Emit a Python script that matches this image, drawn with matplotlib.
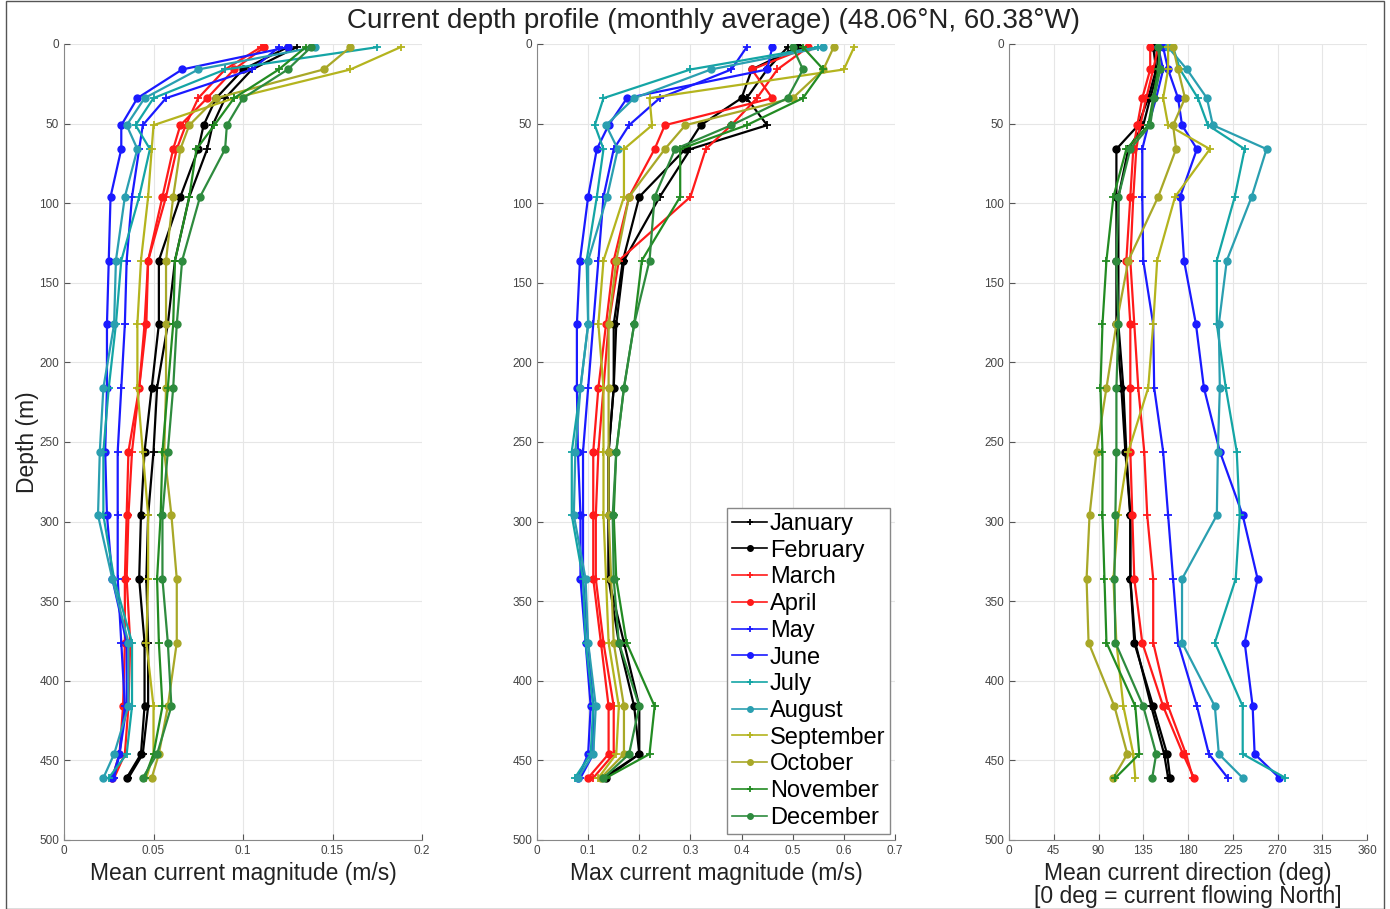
import numpy as np
import matplotlib
matplotlib.use('Agg')
import matplotlib.pyplot as plt
from matplotlib.patches import Rectangle

plt.rcParams['font.family'] = ['Liberation Sans', 'DejaVu Sans']

# depth bins (m)
depth = [2, 16, 34, 51, 66, 96, 136, 176, 216, 256, 296, 336, 376, 416, 446, 461]

months = ['January', 'February', 'March', 'April', 'May', 'June', 'July',
          'August', 'September', 'October', 'November', 'December']

# mean current magnitude (m/s)
mean_jan = [0.130, 0.105, 0.090, 0.083, 0.080, 0.070, 0.062, 0.058, 0.052, 0.050, 0.047, 0.046, 0.047, 0.047, 0.044, 0.036]
mean_feb = [0.125, 0.100, 0.085, 0.078, 0.075, 0.065, 0.053, 0.053, 0.049, 0.045, 0.043, 0.042, 0.045, 0.045, 0.043, 0.035]
mean_mar = [0.110, 0.090, 0.075, 0.068, 0.063, 0.057, 0.047, 0.045, 0.042, 0.038, 0.036, 0.035, 0.037, 0.036, 0.034, 0.028]
mean_apr = [0.112, 0.095, 0.080, 0.065, 0.061, 0.055, 0.047, 0.046, 0.042, 0.036, 0.035, 0.034, 0.034, 0.033, 0.031, 0.027]
mean_may = [0.120, 0.105, 0.057, 0.044, 0.042, 0.038, 0.035, 0.034, 0.032, 0.030, 0.030, 0.030, 0.032, 0.034, 0.031, 0.028]
mean_jun = [0.125, 0.066, 0.041, 0.032, 0.032, 0.026, 0.025, 0.024, 0.024, 0.023, 0.024, 0.027, 0.035, 0.035, 0.031, 0.027]
mean_jul = [0.175, 0.090, 0.050, 0.040, 0.048, 0.042, 0.032, 0.029, 0.025, 0.022, 0.022, 0.028, 0.038, 0.038, 0.035, 0.025]
mean_aug = [0.140, 0.075, 0.045, 0.035, 0.041, 0.034, 0.029, 0.028, 0.022, 0.020, 0.019, 0.027, 0.036, 0.036, 0.028, 0.022]
mean_sep = [0.188, 0.160, 0.095, 0.050, 0.049, 0.047, 0.043, 0.041, 0.041, 0.044, 0.047, 0.047, 0.046, 0.050, 0.050, 0.046]
mean_oct = [0.160, 0.145, 0.085, 0.070, 0.065, 0.061, 0.057, 0.057, 0.057, 0.056, 0.060, 0.063, 0.063, 0.058, 0.053, 0.049]
mean_nov = [0.135, 0.120, 0.095, 0.084, 0.074, 0.070, 0.062, 0.061, 0.058, 0.055, 0.054, 0.052, 0.053, 0.055, 0.050, 0.045]
mean_dec = [0.138, 0.125, 0.100, 0.091, 0.090, 0.076, 0.066, 0.063, 0.061, 0.058, 0.055, 0.055, 0.058, 0.060, 0.052, 0.044]

# max current magnitude (m/s)
max_jan = [0.49, 0.45, 0.41, 0.45, 0.30, 0.24, 0.170, 0.155, 0.150, 0.140, 0.140, 0.140, 0.170, 0.200, 0.200, 0.130]
max_feb = [0.51, 0.42, 0.40, 0.32, 0.29, 0.20, 0.168, 0.150, 0.150, 0.140, 0.140, 0.140, 0.160, 0.190, 0.200, 0.135]
max_mar = [0.53, 0.47, 0.43, 0.38, 0.33, 0.30, 0.160, 0.140, 0.130, 0.120, 0.115, 0.115, 0.130, 0.150, 0.150, 0.110]
max_apr = [0.53, 0.42, 0.46, 0.25, 0.23, 0.18, 0.150, 0.135, 0.120, 0.110, 0.110, 0.110, 0.125, 0.140, 0.140, 0.100]
max_may = [0.41, 0.38, 0.24, 0.18, 0.15, 0.13, 0.120, 0.110, 0.100, 0.090, 0.090, 0.090, 0.100, 0.110, 0.110, 0.085]
max_jun = [0.46, 0.45, 0.176, 0.14, 0.117, 0.10, 0.084, 0.078, 0.078, 0.080, 0.085, 0.085, 0.095, 0.105, 0.100, 0.080]
max_jul = [0.55, 0.30, 0.13, 0.113, 0.13, 0.117, 0.097, 0.100, 0.085, 0.068, 0.068, 0.090, 0.095, 0.110, 0.105, 0.074]
max_aug = [0.56, 0.34, 0.19, 0.135, 0.158, 0.137, 0.100, 0.100, 0.085, 0.075, 0.072, 0.095, 0.100, 0.115, 0.110, 0.080]
max_sep = [0.62, 0.60, 0.22, 0.225, 0.17, 0.17, 0.130, 0.120, 0.130, 0.130, 0.130, 0.135, 0.140, 0.160, 0.155, 0.120]
max_oct = [0.58, 0.56, 0.50, 0.29, 0.25, 0.18, 0.155, 0.140, 0.140, 0.140, 0.140, 0.145, 0.150, 0.170, 0.170, 0.125]
max_nov = [0.52, 0.56, 0.52, 0.41, 0.28, 0.28, 0.205, 0.190, 0.170, 0.155, 0.150, 0.155, 0.175, 0.230, 0.220, 0.135]
max_dec = [0.50, 0.52, 0.49, 0.38, 0.27, 0.23, 0.220, 0.190, 0.170, 0.155, 0.148, 0.150, 0.160, 0.200, 0.180, 0.130]

# mean current direction (deg)
dir_jan = [148, 150, 142, 135, 120, 110, 110, 110, 115, 118, 122, 122, 127, 143, 156, 160]
dir_feb = [145, 148, 140, 130, 108, 108, 108, 108, 113, 117, 122, 122, 126, 145, 159, 162]
dir_mar = [150, 145, 138, 132, 128, 125, 122, 126, 130, 136, 139, 145, 145, 160, 178, 185]
dir_apr = [142, 142, 134, 129, 125, 122, 118, 122, 122, 122, 124, 126, 134, 155, 175, 186]
dir_may = [150, 155, 148, 140, 134, 134, 135, 145, 146, 155, 160, 165, 170, 189, 201, 220]
dir_jun = [155, 160, 170, 174, 189, 172, 176, 188, 196, 212, 235, 250, 237, 245, 247, 272]
dir_jul = [165, 172, 190, 200, 237, 227, 209, 209, 218, 229, 232, 228, 207, 235, 235, 278]
dir_aug = [160, 179, 199, 205, 259, 244, 219, 211, 212, 210, 209, 174, 174, 207, 211, 235]
dir_sep = [160, 160, 155, 160, 202, 167, 149, 145, 140, 120, 110, 105, 108, 115, 125, 127]
dir_oct = [165, 170, 177, 165, 168, 150, 120, 108, 98, 88, 81, 78, 80, 106, 119, 105]
dir_nov = [152, 150, 145, 140, 118, 105, 98, 94, 92, 94, 94, 96, 98, 127, 131, 107]
dir_dec = [150, 152, 146, 142, 122, 110, 108, 110, 108, 108, 107, 106, 107, 135, 148, 144]

mean_all = [mean_jan, mean_feb, mean_mar, mean_apr, mean_may, mean_jun,
            mean_jul, mean_aug, mean_sep, mean_oct, mean_nov, mean_dec]
max_all = [max_jan, max_feb, max_mar, max_apr, max_may, max_jun,
           max_jul, max_aug, max_sep, max_oct, max_nov, max_dec]
dir_all = [dir_jan, dir_feb, dir_mar, dir_apr, dir_may, dir_jun,
           dir_jul, dir_aug, dir_sep, dir_oct, dir_nov, dir_dec]

colors = ['#000000', '#000000', '#ff1a1a', '#ff1a1a', '#1a1aff', '#1a1aff',
          '#14a5a5', '#2a9fb0', '#b4b41e', '#a8a828', '#228b22', '#2e8b3e']
markers = ['+', 'o'] * 6

fig = plt.figure(figsize=(13.9, 9.09), dpi=100)
fig.patches.append(Rectangle((0.004, 0.0), 0.992, 0.999, transform=fig.transFigure,
                             fill=False, edgecolor='#555555', linewidth=1))

lefts = [64/1390, 537/1390, 1009/1390]
w = 358/1390
bottom = (909-840)/909
h = 796/909

xlims = [(0, 0.2), (0, 0.7), (0, 360)]
xticks = [np.arange(0, 0.21, 0.05), np.arange(0, 0.71, 0.1), np.arange(0, 361, 45)]
xticklabels = [['0', '0.05', '0.1', '0.15', '0.2'],
               ['0', '0.1', '0.2', '0.3', '0.4', '0.5', '0.6', '0.7'],
               [str(v) for v in range(0, 361, 45)]]
xlabels = ['Mean current magnitude (m/s)', 'Max current magnitude (m/s)',
           'Mean current direction (deg)\n[0 deg = current flowing North]']
data = [mean_all, max_all, dir_all]

axes = []
for k in range(3):
    ax = fig.add_axes([lefts[k], bottom, w, h])
    for i in range(12):
        if markers[i] == 'o':
            ax.plot(data[k][i], depth, color=colors[i], marker='o', markersize=5,
                    linewidth=1.6, label=months[i])
        else:
            ax.plot(data[k][i], depth, color=colors[i], marker='+', markersize=6,
                    markeredgewidth=1.3, linewidth=1.6, label=months[i])
    ax.set_xlim(xlims[k])
    ax.set_ylim(500, 0)
    ax.set_xticks(xticks[k])
    ax.set_xticklabels(xticklabels[k])
    ax.set_yticks(np.arange(0, 501, 50))
    ax.grid(True, color='#e6e6e6', linewidth=0.8)
    ax.set_axisbelow(True)
    ax.spines['top'].set_visible(False)
    ax.spines['right'].set_visible(False)
    ax.spines['left'].set_color('#888888')
    ax.spines['bottom'].set_color('#888888')
    ax.tick_params(direction='in', length=4, labelsize=8.5, colors='#555555',
                   labelcolor='#444444')
    ax.set_xlabel(xlabels[k], fontsize=16.5, color='#222222', labelpad=4,
                  linespacing=0.95)
    axes.append(ax)

axes[0].set_ylabel('Depth (m)', fontsize=16.5, color='#222222', labelpad=0)

leg = axes[1].legend(loc='lower right', bbox_to_anchor=(0.986, 0.008), fontsize=17,
                     handlelength=1.5, handletextpad=0.1, labelspacing=0.2,
                     borderpad=0.2, borderaxespad=0, fancybox=False,
                     edgecolor='#888888', framealpha=1)
for line in leg.get_lines():
    line.set_markersize(4)
    line.set_linewidth(1.2)

fig.text(0.513, 0.977, 'Current depth profile (monthly average) (48.06°N, 60.38°W)',
         ha='center', va='center', fontsize=20, color='#222222')

plt.savefig('out.png', dpi=100)
